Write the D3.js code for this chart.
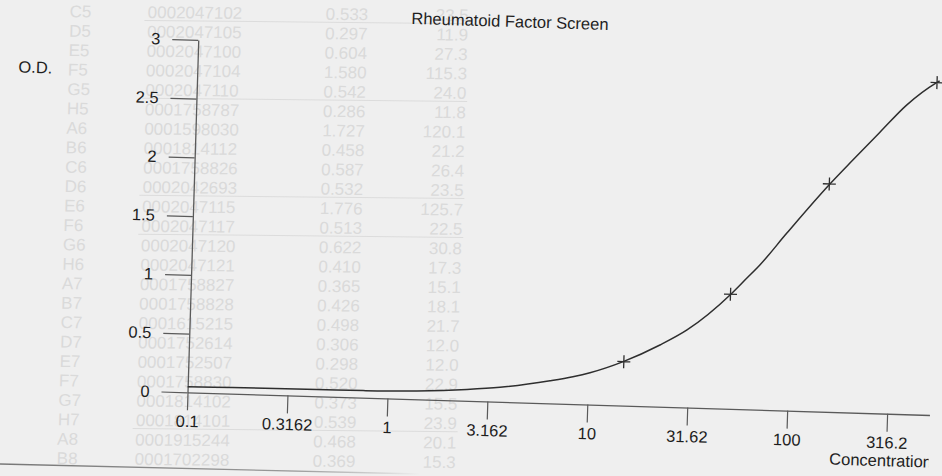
<!DOCTYPE html>
<html><head><meta charset="utf-8">
<script src="https://cdn.jsdelivr.net/npm/d3@7"></script>
<style>html,body{margin:0;padding:0;background:#efefef;} svg{display:block;}</style>
</head><body>
<svg id="c" width="942" height="476"></svg>
<script>
// ---- chart data ----
const title = "Rheumatoid Factor Screen";
const yLabel = "O.D.";
const xLabel = "Concentration";
const xTickValues = [0.1, 0.3162, 1, 3.162, 10, 31.62, 100, 316.2];
const xTickLabels = ["0.1", "0.3162", "1", "3.162", "10", "31.62", "100", "316.2"];
const yTickValues = [0, 0.5, 1, 1.5, 2, 2.5, 3];
const yTickLabels = ["0", "0.5", "1", "1.5", "2", "2.5", "3"];
const xDomain = [0.1, 515];
const yDomain = [0, 3];
const standardConc = [15, 50, 150, 500];
const standardOD = [0.374, 0.975, 1.939, 2.829];
const curveConc = [0.1, 0.167, 0.443, 0.754, 1.40, 2.49, 3.64, 6.46, 8.39, 10.2, 14.9, 22.6, 30.7, 50.2, 59.9, 69.4, 93.4, 151, 195, 263, 355, 497.7, 515];
const curveOD   = [0.048, 0.052, 0.057, 0.060, 0.071, 0.097, 0.124, 0.193, 0.233, 0.271, 0.374, 0.525, 0.660, 0.975, 1.115, 1.232, 1.508, 1.939, 2.149, 2.390, 2.630, 2.829, 2.845];

// ---- faint table showing through the page ----
const tableWell = ["C5","D5","E5","F5","G5","H5","A6","B6","C6","D6","E6","F6","G6","H6","A7","B7","C7","D7","E7","F7","G7","H7","A8","B8"];
const tableSample = ["0002047102","0002047105","0002047100","0002047104","0002047110","0001758787","0001598030","0001814112","0001758826","0002042693","0002047115","0002047117","0002047120","0002047121","0001758827","0001758828","0001615215","0001752614","0001752507","0001758830","0001814102","0001814101","0001915244","0001702298"];
const tableOD = ["0.533","0.297","0.604","1.580","0.542","0.286","1.727","0.458","0.587","0.532","1.776","0.513","0.622","0.410","0.365","0.426","0.498","0.306","0.298","0.520","0.373","0.539","0.468","0.369"];
const tableConc = ["23.5","11.9","27.3","115.3","24.0","11.8","120.1","21.2","26.4","23.5","125.7","22.5","30.8","17.3","15.1","18.1","21.7","12.0","12.0","22.9","15.5","23.9","20.1","15.3"];
const tableRuleRows = [0, 4, 9, 11, 21];

const FONT = "'Liberation Sans', Arial, Helvetica, sans-serif";
const svg = d3.select("#c");

// background table (skewed like the scan)
const tbl = svg.append("g").attr("transform", "matrix(1,0.01,-0.029,1,0,0)")
  .attr("font-family", FONT).attr("font-size", "17px").attr("fill", "#dadada");
const rowY = d3.scaleLinear().domain([0, 23]).range([10.5, 457.4]);
tableWell.forEach((w, i) => {
  const y = rowY(i) + 6;
  tbl.append("text").attr("x", 70).attr("y", y).text(w);
  tbl.append("text").attr("x", 148).attr("y", y).text(tableSample[i]);
  tbl.append("text").attr("x", 326).attr("y", y).text(tableOD[i]);
  tbl.append("text").attr("x", 469).attr("y", y).attr("text-anchor", "end").text(tableConc[i]);
});
tableRuleRows.forEach(i => {
  tbl.append("line").attr("x1", 145).attr("x2", 470)
    .attr("y1", rowY(i) + 8.5).attr("y2", rowY(i) + 8.5)
    .attr("stroke", "#dcdcdc").attr("stroke-width", 1);
});

// page edge line at bottom
const defs = svg.append("defs");
const grad = defs.append("linearGradient").attr("id", "fade").attr("x1", "0").attr("x2", "1").attr("y1", "0").attr("y2", "0");
grad.append("stop").attr("offset", "0").attr("stop-color", "#777");
grad.append("stop").attr("offset", "0.7").attr("stop-color", "#999");
grad.append("stop").attr("offset", "1").attr("stop-color", "#efefef");
svg.append("path").attr("d", "M0,464 L420,474").attr("stroke", "url(#fade)").attr("stroke-width", 1.3).attr("fill", "none");

// ---- main chart (scan slightly rotated) ----
const W = 742.3, H = 352.5;
const g = svg.append("g").attr("transform", "translate(187.5,392.3) rotate(1.75)")
  .attr("font-family", FONT);

const x = d3.scaleLog().domain(xDomain).range([0, W]);
const y = d3.scaleLinear().domain(yDomain).range([0, -H]);

const xAxis = d3.axisBottom(x).tickValues(xTickValues)
  .tickFormat((d, i) => xTickLabels[i]).tickSizeInner(18).tickSizeOuter(0).tickPadding(5);
const yAxis = d3.axisLeft(y).tickValues(yTickValues)
  .tickFormat((d, i) => yTickLabels[i]).tickSizeInner(26).tickSizeOuter(0).tickPadding(12);

function styleAxis(sel) {
  sel.select(".domain").attr("stroke", "#5a5a5a").attr("stroke-width", 1.3);
  sel.selectAll(".tick line").attr("stroke", "#5a5a5a").attr("stroke-width", 1.2);
  sel.selectAll(".tick text").attr("fill", "#1e1e1e").attr("font-size", "16.5px").attr("font-family", FONT);
}
g.append("g").call(xAxis).call(styleAxis);
g.append("g").call(yAxis).call(styleAxis);

// fitted curve
const pts = curveConc.map((c, i) => [c, curveOD[i]]);
const line = d3.line().x(d => x(d[0])).y(d => y(d[1])).curve(d3.curveMonotoneX);
g.append("path").datum(pts).attr("d", line)
  .attr("fill", "none").attr("stroke", "#2e2e2e").attr("stroke-width", 1.5);

// standards as + markers
const arm = 6.5;
standardConc.forEach((c, i) => {
  const px = x(c), py = y(standardOD[i]);
  g.append("path")
    .attr("d", `M${px - arm},${py}H${px + arm}M${px},${py - arm}V${py + arm}`)
    .attr("stroke", "#2e2e2e").attr("stroke-width", 1.3).attr("fill", "none");
});

// titles
g.append("text").attr("x", 311).attr("y", -375).attr("text-anchor", "middle")
  .attr("font-size", "16.5px").attr("fill", "#1e1e1e").text(title);
g.append("text").attr("x", -162).attr("y", -314.5).attr("text-anchor", "middle")
  .attr("font-size", "16.5px").attr("fill", "#1e1e1e").text(yLabel);

defs.append("clipPath").attr("id", "xlabclip").append("rect")
  .attr("x", -400).attr("y", -500).attr("width", 400 + W + 0.5).attr("height", 1000);
g.append("text").attr("x", 643.5).attr("y", 52.6).attr("clip-path", "url(#xlabclip)")
  .attr("font-size", "16.5px").attr("fill", "#1e1e1e").text(xLabel);
</script>
</body></html>
